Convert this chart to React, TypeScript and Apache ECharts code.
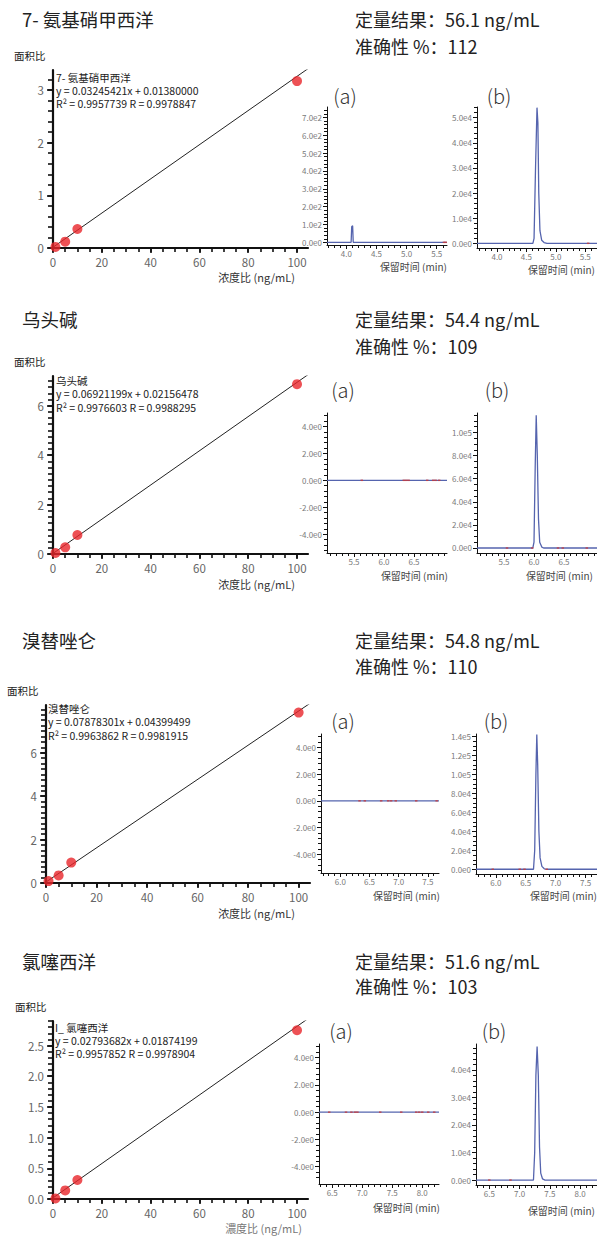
import React, { useEffect, useRef } from "react";
import * as echarts from "echarts";

// ---------- data ----------
const compoundNames = ["7- 氨基硝甲西洋", "乌头碱", "溴替唑仑", "氯噻西洋"];
const curveLabels = ["7- 氨基硝甲西洋", "乌头碱", "溴替唑仑", "I_ 氯噻西洋"];
const quantResults = ["56.1", "54.4", "54.8", "51.6"];
const accuracyValues = ["112", "109", "110", "103"];
const slopes = [0.03245421, 0.06921199, 0.07878301, 0.02793682];
const intercepts = [0.0138, 0.02156478, 0.04399499, 0.01874199];
const rSquared = ["0.9957739", "0.9976603", "0.9963862", "0.9957852"];
const rValues = ["0.9978847", "0.9988295", "0.9981915", "0.9978904"];
const xAxisTitles = ["浓度比 (ng/mL)", "浓度比 (ng/mL)", "浓度比 (ng/mL)", "濃度比 (ng/mL)"];

const calConc = [1, 5, 10, 100];
const calRatio1 = [0.02, 0.12, 0.36, 3.17];
const calRatio2 = [0.04, 0.27, 0.77, 6.87];
const calRatio3 = [0.09, 0.35, 0.94, 7.85];
const calRatio4 = [0.01, 0.14, 0.31, 2.75];

const calXTicks = [0, 20, 40, 60, 80, 100];
const calYTicks1 = [0, 1, 2, 3];
const calYTicks2 = [0, 2, 4, 6];
const calYTicks3 = [0, 2, 4, 6];
const calYTicks4 = [0, 0.5, 1.0, 1.5, 2.0, 2.5];

// chromatograms: [retention time (min), intensity]
const chrom1a = [[3.68, 0], [4.08, 0], [4.09, 88], [4.105, 93], [4.115, 0], [5.67, 0]];
const chrom1b = [[3.66, 0], [4.61, 0], [4.63, 2000], [4.655, 30000], [4.68, 54000], [4.695, 48000], [4.71, 20000], [4.73, 5000], [4.76, 1200], [4.8, 300], [4.85, 0], [5.7, 0]];
const chrom2a = [[5.05, 0], [7.05, 0]];
const chrom2b = [[5.05, 0], [5.98, 0], [6.0, 5000], [6.02, 70000], [6.037, 115000], [6.055, 80000], [6.075, 25000], [6.095, 5000], [6.13, 800], [6.16, 0], [7.05, 0]];
const chrom3a = [[5.67, 0], [7.69, 0]];
const chrom3b = [[5.67, 0], [6.63, 0], [6.65, 20000], [6.67, 100000], [6.685, 142000], [6.7, 110000], [6.72, 40000], [6.74, 12000], [6.77, 3000], [6.81, 500], [6.86, 0], [7.69, 0]];
const chrom4a = [[6.28, 0], [8.28, 0]];
const chrom4b = [[6.28, 0], [7.23, 0], [7.25, 10000], [7.27, 38000], [7.29, 48500], [7.31, 38000], [7.33, 12000], [7.35, 2500], [7.38, 400], [7.42, 0], [8.28, 0]];

const marks1a = [5.62, 5.65];
const marks1b = [5.55];
const marks2a = [5.63, 6.33, 6.37, 6.41, 6.72, 6.82, 6.86, 6.92];
const marks2b = [5.55, 5.97, 6.4, 6.48, 6.88];
const marks3a = [6.33, 6.42, 6.7, 6.82, 6.87, 6.95, 7.3, 7.65];
const marks3b = [5.95, 6.4, 6.48, 6.85];
const marks4a = [6.45, 6.73, 6.82, 6.88, 6.92, 7.3, 7.65, 7.9, 7.95, 8.0, 8.1, 8.2];
const marks4b = [6.5, 6.85];

const rtTicks1 = [4.0, 4.5, 5.0, 5.5];
const rtTicks2 = [5.5, 6.0, 6.5];
const rtTicks3 = [6.0, 6.5, 7.0, 7.5];
const rtTicks4 = [6.5, 7.0, 7.5, 8.0];
const intTicks1a = [0, 100, 200, 300, 400, 500, 600, 700];
const intTicks1b = [0, 10000, 20000, 30000, 40000, 50000];
const intTicksBlank = [-4, -2, 0, 2, 4];
const intTicks2b = [0, 20000, 40000, 60000, 80000, 100000];
const intTicks3b = [0, 20000, 40000, 60000, 80000, 100000, 120000, 140000];
const intTicks4b = [0, 10000, 20000, 30000, 40000];

// ---------- helpers ----------
const FONT = '"Noto Sans CJK SC", "Noto Sans", sans-serif';

function steps(a: number, b: number, s: number): number[] {
  const out: number[] = [];
  const n = Math.round((b - a) / s);
  for (let i = 0; i <= n; i++) out.push(Math.round((a + i * s) * 10000) / 10000);
  return out;
}

function sci(v: number): string {
  if (Math.abs(v) < 1e-9) return "0.0e0";
  const e = Math.floor(Math.log10(Math.abs(v)) + 1e-9);
  const m = v / Math.pow(10, e);
  return m.toFixed(1) + "e" + e;
}

type Panel = {
  kind: "cal" | "chrom";
  left: number; top: number; width: number; height: number;
  xMin: number; xMax: number; yMin: number; yMax: number;
  xMajor: number[]; xMinor: number[]; yMajor: number[]; yMinor: number[];
  yFmt: (v: number) => string;
  series: any[];
};

const calRatios = [calRatio1, calRatio2, calRatio3, calRatio4];
const calYTicks = [calYTicks1, calYTicks2, calYTicks3, calYTicks4];
const calLayout = [
  { left: 53, top: 70, width: 255, height: 178, yMax: 3.38, minor: 0.2, fmt: (v: number) => String(v) },
  { left: 53, top: 376, width: 255, height: 178, yMax: 7.2, minor: 0.25, fmt: (v: number) => String(v) },
  { left: 46, top: 705, width: 264, height: 178, yMax: 8.2, minor: 0.25, fmt: (v: number) => String(v) },
  { left: 53, top: 1021, width: 255, height: 178, yMax: 2.9, minor: 0.1, fmt: (v: number) => v.toFixed(1) },
];
const calXMax = 104.5;

const chromDefs = [
  { d: chrom1a, m: marks1a, rt: rtTicks1, it: intTicks1a, left: 327, top: 107, width: 120, height: 138, xMin: 3.68, xMax: 5.67, yMin: -15, yMax: 758, yMinorStep: 20, yMinorMax: 740, yMinorMin: 0 },
  { d: chrom1b, m: marks1b, rt: rtTicks1, it: intTicks1b, left: 477, top: 107, width: 120, height: 141, xMin: 3.66, xMax: 5.7, yMin: -1870, yMax: 54260, yMinorStep: 2000, yMinorMax: 54000, yMinorMin: 0 },
  { d: chrom2a, m: marks2a, rt: rtTicks2, it: intTicksBlank, left: 327, top: 413, width: 120, height: 140, xMin: 5.05, xMax: 7.05, yMin: -5.4, yMax: 5.0, yMinorStep: 0.4, yMinorMax: 4.8, yMinorMin: -5.2 },
  { d: chrom2b, m: marks2b, rt: rtTicks2, it: intTicks2b, left: 477, top: 413, width: 120, height: 140, xMin: 5.05, xMax: 7.05, yMin: -4330, yMax: 116900, yMinorStep: 5000, yMinorMax: 115000, yMinorMin: 0 },
  { d: chrom3a, m: marks3a, rt: rtTicks3, it: intTicksBlank, left: 321, top: 734, width: 118, height: 139, xMin: 5.67, xMax: 7.69, yMin: -5.4, yMax: 5.0, yMinorStep: 0.4, yMinorMax: 4.8, yMinorMin: -5.2 },
  { d: chrom3b, m: marks3b, rt: rtTicks3, it: intTicks3b, left: 476, top: 734, width: 121, height: 140, xMin: 5.67, xMax: 7.69, yMin: -5000, yMax: 142600, yMinorStep: 5000, yMinorMax: 140000, yMinorMin: 0 },
  { d: chrom4a, m: marks4a, rt: rtTicks4, it: intTicksBlank, left: 319, top: 1044, width: 120, height: 140, xMin: 6.28, xMax: 8.28, yMin: -5.27, yMax: 5.0, yMinorStep: 0.4, yMinorMax: 4.8, yMinorMin: -4.8 },
  { d: chrom4b, m: marks4b, rt: rtTicks4, it: intTicks4b, left: 476, top: 1044, width: 121, height: 141, xMin: 6.28, xMax: 8.28, yMin: -1800, yMax: 49400, yMinorStep: 2000, yMinorMax: 48000, yMinorMin: 0 },
];

function buildOption() {
  const panels: Panel[] = [];
  for (let i = 0; i < 4; i++) {
    const L = calLayout[i];
    const pts = calConc.map((c, k) => [c, calRatios[i][k]]);
    const fit = [[0, intercepts[i]], [calXMax, slopes[i] * calXMax + intercepts[i]]];
    panels.push({
      kind: "cal", left: L.left, top: L.top, width: L.width, height: L.height,
      xMin: 0, xMax: calXMax, yMin: 0, yMax: L.yMax,
      xMajor: calXTicks, xMinor: steps(0, 100, 5), yMajor: calYTicks[i],
      yMinor: steps(0, Math.floor(L.yMax / L.minor + 1e-6) * L.minor, L.minor), yFmt: L.fmt,
      series: [
        { type: "line", data: fit, showSymbol: false, symbol: "none", lineStyle: { color: "#222", width: 1 }, z: 2 },
        { type: "scatter", data: pts, symbol: "circle", symbolSize: 10, itemStyle: { color: "#e8262b" }, z: 3 },
      ],
    });
  }
  for (const c of chromDefs) {
    panels.push({
      kind: "chrom", left: c.left, top: c.top, width: c.width, height: c.height,
      xMin: c.xMin, xMax: c.xMax, yMin: c.yMin, yMax: c.yMax,
      xMajor: c.rt, xMinor: steps(Math.ceil(c.xMin * 10) / 10, Math.floor(c.xMax * 10) / 10, 0.1),
      yMajor: c.it, yMinor: steps(c.yMinorMin, c.yMinorMax, c.yMinorStep), yFmt: sci,
      series: [
        { type: "line", data: c.d, showSymbol: false, symbol: "none", lineStyle: { color: "#5564ae", width: 1.3 }, z: 2 },
        { type: "scatter", data: c.m.map((t) => [t, 0]), symbol: "rect", symbolSize: [2.5, 1.5], itemStyle: { color: "#c8383a" }, z: 3 },
      ],
    });
  }

  const grid: any[] = [];
  const xAxis: any[] = [];
  const yAxis: any[] = [];
  const series: any[] = [];
  panels.forEach((p, g) => {
    const cal = p.kind === "cal";
    grid.push({ left: p.left, top: p.top, width: p.width, height: p.height, containLabel: false });
    const axisLineW = cal ? 2.2 : 1;
    const tickW = cal ? 1.6 : 1;
    const labelStyle = { color: cal ? "#666" : "#7a7a7a", fontSize: cal ? 11.5 : 8, fontFamily: FONT };
    xAxis.push({
      type: "value", gridIndex: g, min: p.xMin, max: p.xMax, position: "bottom",
      axisLine: { show: true, onZero: false, lineStyle: { color: "#111", width: axisLineW } },
      axisTick: { show: true, customValues: p.xMajor, length: cal ? 5 : 4, lineStyle: { color: "#111", width: tickW } },
      axisLabel: { show: true, customValues: p.xMajor, margin: cal ? 8 : 4, ...labelStyle, formatter: (v: number) => (cal ? String(v) : v.toFixed(1)) },
      splitLine: { show: false },
    });
    xAxis.push({
      type: "value", gridIndex: g, min: p.xMin, max: p.xMax, position: "bottom",
      axisLine: { show: false, onZero: false },
      axisTick: { show: true, customValues: p.xMinor, length: cal ? 4 : 3, lineStyle: { color: "#111", width: tickW } },
      axisLabel: { show: false },
      splitLine: { show: false },
    });
    yAxis.push({
      type: "value", gridIndex: g, min: p.yMin, max: p.yMax, position: "left",
      axisLine: { show: true, onZero: false, lineStyle: { color: "#111", width: axisLineW } },
      axisTick: { show: true, customValues: p.yMajor, length: cal ? 6 : 4, lineStyle: { color: "#111", width: tickW } },
      axisLabel: { show: true, customValues: p.yMajor, margin: cal ? 9 : 5, ...labelStyle, formatter: p.yFmt },
      splitLine: { show: false },
    });
    yAxis.push({
      type: "value", gridIndex: g, min: p.yMin, max: p.yMax, position: "left",
      axisLine: { show: false, onZero: false },
      axisTick: { show: true, customValues: p.yMinor, length: cal ? 5 : 3, lineStyle: { color: "#111", width: tickW } },
      axisLabel: { show: false },
      splitLine: { show: false },
    });
    p.series.forEach((s) => series.push({ ...s, xAxisIndex: 2 * g, yAxisIndex: 2 * g, animation: false, silent: true }));
  });

  const txt = (x: number, y: number, text: string, size: number, fill: string, align = "left", weight: any = "normal") => ({
    type: "text", x, y, silent: true,
    style: { text, fill, font: `${weight} ${size}px ${FONT}`, align, verticalAlign: "middle", textAlign: align, textVerticalAlign: "middle" },
  });

  const graphic: any[] = [];
  const titleY = [19, 319, 640, 961];
  const accY = [46, 346, 666, 986];
  const areaLbl = [[14, 55], [14, 361], [7, 690], [15, 1006]];
  const annot = [[56, 77.5], [56, 380], [48, 708.5], [55, 1027.5]];
  const annotStep = [13.2, 13.6, 13.4, 13];
  const xTitle = [[295, 277], [295, 584], [295, 913], [302, 1228]];
  for (let i = 0; i < 4; i++) {
    graphic.push(txt(22, titleY[i], compoundNames[i], 18.5, "#222"));
    graphic.push(txt(355, titleY[i], `定量结果：${quantResults[i]} ng/mL`, 18, "#222"));
    graphic.push(txt(355, accY[i], `准确性 %：${accuracyValues[i]}`, 18, "#222"));
    graphic.push(txt(areaLbl[i][0], areaLbl[i][1], "面积比", 10.5, "#222"));
    const [ax, ay] = annot[i];
    graphic.push(txt(ax, ay, curveLabels[i], 10.5, "#222"));
    graphic.push(txt(ax, ay + annotStep[i], `y = ${slopes[i].toFixed(8)}x + ${intercepts[i].toFixed(8)}`, 10.5, "#222"));
    graphic.push(txt(ax, ay + 2 * annotStep[i], `R² = ${rSquared[i]} R = ${rValues[i]}`, 10.5, "#222"));
    graphic.push(txt(xTitle[i][0], xTitle[i][1], xAxisTitles[i], 11, i === 3 ? "#777" : "#333", "right"));
  }
  const abLbl = [[345, 499, 95], [343, 497, 389], [343, 496, 720], [341, 494, 1030]];
  abLbl.forEach(([a, b, y]) => {
    graphic.push(txt(a, y, "(a)", 20, "#333", "center", 300));
    graphic.push(txt(b, y, "(b)", 20, "#333", "center", 300));
  });
  const rtTitle = [[447, 266], [595, 269], [448, 575], [593, 575], [440, 895], [597, 895], [440, 1207], [595, 1210]];
  rtTitle.forEach(([x, y]) => graphic.push(txt(x, y, "保留时间 (min)", 10, "#444", "right")));

  return {
    animation: false,
    backgroundColor: "#ffffff",
    textStyle: { fontFamily: FONT },
    grid, xAxis, yAxis, series, graphic,
  };
}

export default function App() {
  const ref = useRef<HTMLDivElement>(null);
  useEffect(() => {
    document.body.style.margin = "0";
    if (!ref.current) return;
    const chart = echarts.init(ref.current, undefined, { renderer: "svg" });
    chart.setOption(buildOption() as any);
    return () => chart.dispose();
  }, []);
  return <div ref={ref} style={{ width: 597, height: 1236 }} />;
}
